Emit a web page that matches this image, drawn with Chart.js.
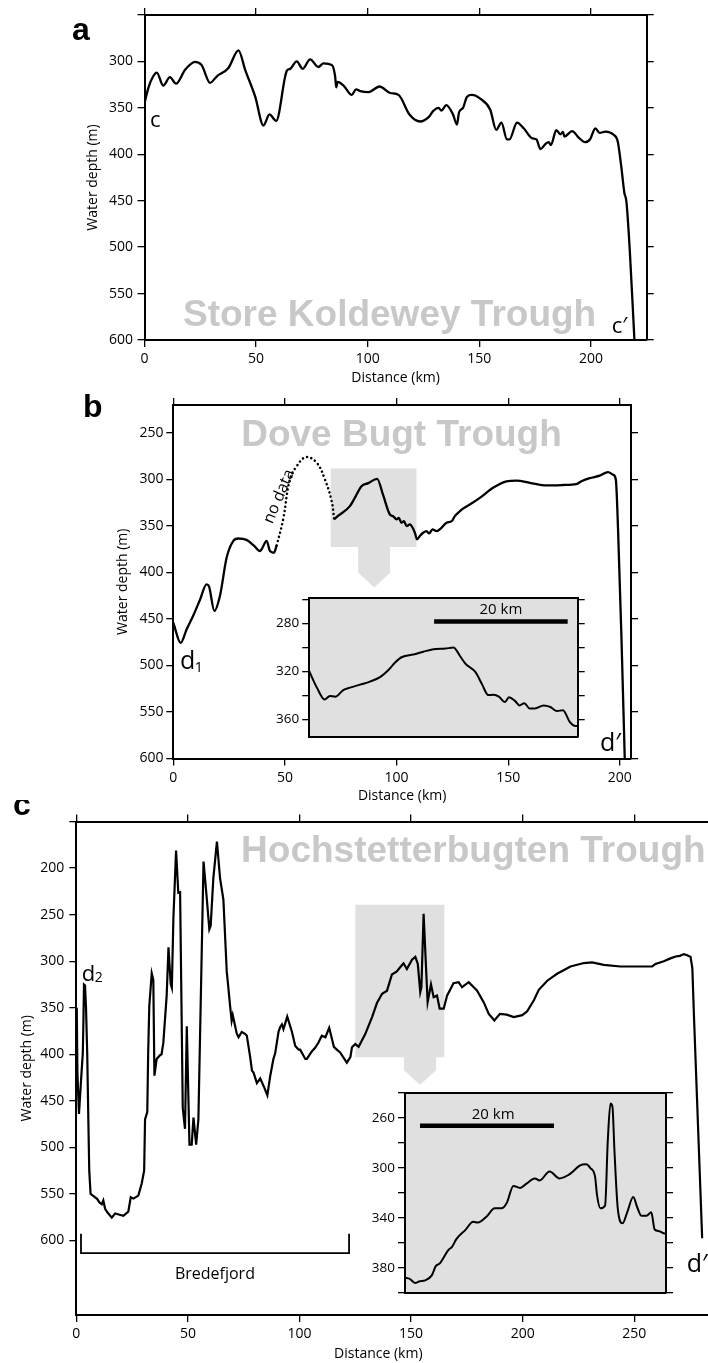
<!DOCTYPE html>
<html><head><meta charset="utf-8">
<script src="https://cdn.jsdelivr.net/npm/chart.js@4.4.1/dist/chart.umd.min.js"></script>
<style>
html,body{margin:0;padding:0;background:#fff;overflow:hidden;}
#wrap{position:relative;width:708px;height:1363px;overflow:hidden;background:#fff;}
#wrap canvas{position:absolute;}
</style></head><body><div id="wrap"></div>
<script>
// ---------- DATA ----------
// Panel a: Store Koldewey Trough (distance km, water depth m)
const aKm = [0, 1.8, 3.9, 5.5, 8.4, 11.4, 14.1, 18.2, 22.6, 25.6, 29.4, 32.4, 37.6, 42.1, 45.1, 49.6, 53.3, 56, 59, 63.8, 65.3, 68.2, 70.9, 74.2, 77.9, 80.2, 84, 85.4, 85.9, 86.5, 89.2, 92.9, 94.8, 96.7, 100.4, 105.3, 110.1, 113.8, 118.8, 123.5, 127.3, 129.5, 131.8, 133, 135.2, 138.2, 140, 140.9, 142.7, 144.5, 146.7, 150.4, 154.9, 157.6, 159.9, 162.4, 163.5, 166.9, 169.9, 173.6, 175.6, 177.4, 179.6, 181.1, 182.1, 184.5, 186.3, 187.5, 188.1, 191.6, 194.5, 197.5, 199.7, 202, 203.9, 206.5, 210.2, 212, 213.6, 215, 215.9, 217.4, 219.5];
const aDepth = [345, 328, 316, 312, 326, 317, 324, 309, 300.5, 304, 323, 316, 307, 288, 309, 338, 369, 357, 364, 310, 308, 300, 308, 297.7, 306, 302, 304, 316, 328, 322, 326, 336, 330, 332, 333, 327, 334, 336, 357.5, 364.7, 360, 353, 350, 353, 347, 357, 368, 355, 350, 338, 336, 340, 352, 373.7, 366, 384, 384, 365.8, 372, 382.6, 384, 394.5, 389, 387, 390, 374, 378.5, 376, 381, 375, 382, 387, 383.5, 372, 377, 375.5, 379, 386, 413, 441.7, 450.7, 502.7, 600];

// Panel b: Dove Bugt Trough, part before the data gap
const bKm1 = [0, 3.3, 6, 9, 12, 14.9, 16, 18.4, 20.9, 23.9, 26.9, 29.1, 32.8, 36, 38.8, 39.6, 41.8, 43.3, 45.1, 46.3];
const bDepth1 = [454, 475.7, 461, 446, 429, 412.8, 415, 441.4, 425, 384, 366, 363.5, 365, 371, 377, 375, 366, 377, 378.8, 371];
// "no data" interpolated segment
const bGapKm = [46.3, 49.2, 52.2, 55.2, 59.4, 64.2, 67.9, 70.9, 72];
const bGapDepth = [371, 343, 300, 286, 276, 282, 300, 323, 342];
// part after the gap
const bKm2 = [72, 73.9, 79.1, 81.3, 84.3, 87.3, 91.3, 94, 97, 98.5, 100, 101, 102.2, 103.3, 104.5, 106, 107.2, 108.2, 109.2, 110.4, 111.9, 113.4, 114.6, 116.1, 117.9, 120.1, 122.4, 124.7, 126.1, 128.4, 129.6, 132.8, 137.3, 143.2, 149.2, 153.7, 159.7, 167.2, 174.6, 180.5, 182.8, 186.5, 191, 194.7, 197, 198.2, 199.2, 200.7, 202.2];
const bDepth2 = [343, 339, 328.7, 319.8, 307.3, 304, 299.4, 317, 337.7, 339.5, 343, 341.3, 346.6, 344.9, 350.2, 348.4, 352, 357.3, 364.5, 360.9, 357.3, 355.5, 358, 353.7, 355.5, 352, 346.6, 344.9, 339.5, 334.1, 331.6, 327, 319.8, 309, 302, 301.3, 303.6, 306.4, 306, 305, 302, 298.7, 296, 292.2, 295, 300, 353.8, 468, 600];

// Panel c: Hochstetterbugten Trough
const cKm = [0.2, 0.5, 1.2, 2.4, 2.9, 3.2, 3.45, 3.9, 4.35, 4.9, 5.4, 5.8, 6.4, 7.6, 9.4, 10.3, 11.4, 12.1, 12.9, 14, 15.9, 17.4, 19, 21.1, 23.3, 24.4, 25.6, 27.8, 29.3, 30.4, 30.8, 31.8, 32.2, 32.7, 33.8, 34.5, 35, 36, 37.5, 38.2, 39, 40.5, 41.3, 42.3, 42.8, 43.5, 44.7, 45.7, 46.5, 47.7, 48.7, 49.5, 50.7, 51.7, 52.5, 53.7, 54.7, 57, 58.5, 59.6, 60.2, 61.4, 63, 64.4, 65.9, 67.4, 68.1, 68.9, 69.6, 70.1, 71.9, 72.7, 74.1, 75.6, 76.4, 77.9, 78.7, 79.4, 80.9, 82.4, 83.9, 85.6, 86.9, 88.3, 89.1, 90.6, 91.3, 92.1, 92.8, 94.5, 96.6, 98.1, 99.6, 100.3, 102.6, 103.3, 105.5, 107, 108.5, 110, 111.6, 113.3, 115.4, 116.7, 118.2, 121.2, 122.8, 123.5, 125, 126.5, 129.5, 132.5, 134.7, 137, 139.2, 141.4, 143.6, 145.1, 146.6, 148.1, 150.4, 151.9, 153, 154.1, 154.6, 155.6, 156.4, 157.4, 158.9, 160.1, 161.6, 162.8, 164.6, 166.1, 169, 171.3, 172.8, 175.8, 179.5, 182.5, 184.8, 187.3, 189.8, 192.8, 196, 199.8, 202, 205, 207.2, 211, 215.4, 221.4, 227.4, 231.1, 236.3, 243.8, 252.8, 258, 259.5, 263.2, 266.2, 268.5, 270.4, 272.2, 273.7, 275.2, 276, 276.7, 280.4];
const cDepth = [350, 420, 464, 417.5, 399.6, 363.8, 325, 326, 349.5, 399.6, 471, 525, 550, 552, 555.5, 559, 561, 557, 566, 570, 575.4, 571, 572, 573.5, 569, 553.5, 555, 551.8, 538.8, 525, 470, 462, 399, 348.3, 313, 320, 423, 405, 401, 400, 387.5, 336.5, 285, 324.7, 328.6, 254, 181.3, 226.5, 226, 458, 480, 370, 497, 497, 468, 497, 470, 193, 234, 265.8, 262, 210.8, 171.5, 210.8, 234, 311, 328, 348, 364, 358, 377.8, 381.7, 376, 378, 380, 403, 417.5, 419.7, 431, 426, 434, 444, 423, 405, 399, 375.8, 371, 368, 373, 359.5, 375.8, 391, 395, 395, 405, 405, 397, 393, 387.4, 380, 381.7, 371.6, 392, 395, 398, 409, 403, 392.5, 389, 392, 378, 360, 345, 335, 331.7, 314.3, 311, 306.6, 302.3, 308.5, 298.5, 295.5, 303, 333.3, 328, 249, 292, 344, 325, 338.6, 337, 351, 351, 337, 323.6, 322.5, 328, 322.5, 331.5, 344, 356.6, 363.8, 356.6, 357.4, 360, 358, 353.8, 342, 330.7, 321, 313.5, 305.7, 302, 301.3, 303.9, 305.7, 305.7, 305.7, 303, 300, 297, 295, 294.3, 292.4, 293.6, 295.4, 307.7, 357.6, 597.6];

// Inset of panel b (local distance km, depth m)
const ibKm = [0, 1.15, 2.3, 3.1, 3.9, 5.1, 6.1, 7.6, 9.1, 10.6, 11.9, 12.9, 13.9, 15.6, 17.1, 18.6, 20.4, 21.6, 22.6, 23.4, 24.9, 25.9, 26.8, 27.6, 28.4, 29.3, 29.9, 30.8, 31.5, 32.2, 33, 33.8, 35.1, 36.1, 37.1, 38, 39, 39.8, 40.2];
const ibDepth = [319.8, 333.5, 343.4, 340.4, 341, 335.5, 333.5, 331, 328.5, 324.8, 318.6, 312.4, 308, 306, 303.6, 301.6, 301, 300.2, 307.4, 313.6, 320.6, 331, 339.7, 339.4, 341, 345.5, 341.5, 344.5, 348.4, 346.4, 350.8, 350.8, 348.4, 349.6, 353, 352.3, 362, 365.4, 365.5];

// Inset of panel c
const icKm = [0, 0.7, 1.5, 2.2, 3, 4, 4.6, 5.2, 6.5, 7, 7.7, 9, 10.2, 10.9, 12.2, 13.4, 14.4, 15.2, 16.2, 17.2, 18.2, 19.4, 20.1, 21.6, 23.1, 24.4, 25.1, 26.1, 27.1, 27.7, 28.4, 28.7, 29.2, 29.9, 30.3, 30.7, 31, 31.3, 31.8, 32.5, 33.2, 34.1, 34.7, 35.3, 36.1, 36.8, 37.3, 38, 38.8, 39];
const icDepth = [387.8, 388.7, 392, 390.7, 390, 386, 378.6, 376.4, 365.5, 363.3, 356.8, 349.7, 343.1, 343.6, 338.8, 332.3, 332.3, 328, 314.3, 316, 312.3, 308.3, 310, 302.8, 308.3, 305.6, 302.8, 298, 297, 300, 306.9, 321.9, 332.3, 330, 278.3, 248.3, 251, 286.4, 332.8, 344.3, 335.5, 323.3, 331.4, 338.2, 338.2, 335.5, 349.2, 350.6, 352.5, 352.5];

// Tick values / labels
const aDistTicks = [0, 50, 100, 150, 200];
const aDepthTicks = [250, 300, 350, 400, 450, 500, 550, 600];
const aDepthLabels = [300, 350, 400, 450, 500, 550, 600];
const bDistTicks = [0, 50, 100, 150, 200];
const bDepthTicks = [250, 300, 350, 400, 450, 500, 550, 600];
const cDistTicks = [0, 50, 100, 150, 200, 250];
const cDepthTicks = [150, 200, 250, 300, 350, 400, 450, 500, 550, 600];
const cDepthLabels = [200, 250, 300, 350, 400, 450, 500, 550, 600];
const ibDepthTicks = [260, 280, 300, 320, 340, 360];
const ibDepthLabels = [280, 320, 360];
const icDepthTicks = [240, 260, 280, 300, 320, 340, 360, 380, 400];
const icDepthLabels = [260, 300, 340, 380];

// ---------- HELPERS ----------
const FONT = "'Open Sans', 'Noto Sans', 'DejaVu Sans', sans-serif";
const BOLD = "'Liberation Sans', Arial, Helvetica, sans-serif";
const BLACK = '#000';
const GRAYTXT = '#c8c8c8';
const GRAYBOX = '#e0e0e0';
const wrap = document.getElementById('wrap');
const pts = (xs, ys) => xs.map((x, i) => ({x: x, y: ys[i]}));

function makeCanvas(box) {
  const c = document.createElement('canvas');
  c.width = box.w; c.height = box.h;
  c.style.left = box.left + 'px'; c.style.top = box.top + 'px';
  c.style.width = box.w + 'px'; c.style.height = box.h + 'px';
  wrap.appendChild(c);
  return c;
}
const fit = n => s => { if (s.isHorizontal()) s.height = n; else s.width = n; };

function axis(o) {
  const vertical = o.pos === 'left' || o.pos === 'right';
  const cfg = {
    type: 'linear', position: o.pos, min: o.min, max: o.max, reverse: vertical,
    afterFit: fit(o.size),
    ticks: {
      display: !!o.labels, padding: o.pad || 3, color: BLACK,
      font: {family: FONT, size: o.fontSize || 14},
      autoSkip: false, maxRotation: 0, minRotation: 0,
      callback: v => (o.labels && o.labels.indexOf(v) >= 0) ? String(v) : ''
    },
    grid: {display: !!o.ticks, drawOnChartArea: false, drawTicks: true, tickLength: 7, color: BLACK, lineWidth: 1.3},
    border: {display: true, color: BLACK, width: 2}
  };
  if (o.ticks) { const tv = o.ticks; cfg.afterBuildTicks = s => { s.ticks = tv.map(v => ({value: v})); }; }
  if (o.title) cfg.title = o.title;
  return cfg;
}

function annot(cfg) {
  return {
    id: 'annot',
    beforeDraw(chart) {
      if (!cfg.bg) return;
      const a = chart.chartArea, ctx = chart.ctx;
      ctx.save(); ctx.fillStyle = cfg.bg;
      ctx.fillRect(a.left, a.top, a.right - a.left, a.bottom - a.top);
      ctx.restore();
    },
    beforeDatasetsDraw(chart) {
      const ctx = chart.ctx, X = chart.scales.x, Y = chart.scales.y;
      (cfg.shapes || []).forEach(s => {
        ctx.save(); ctx.fillStyle = s.color; ctx.beginPath();
        s.pts.forEach((p, i) => {
          const px = X.getPixelForValue(p[0]), py = Y.getPixelForValue(p[1]);
          if (i) ctx.lineTo(px, py); else ctx.moveTo(px, py);
        });
        ctx.closePath(); ctx.fill(); ctx.restore();
      });
    },
    afterDraw(chart) {
      const ctx = chart.ctx, X = chart.scales.x, Y = chart.scales.y;
      (cfg.lines || []).forEach(l => {
        ctx.save(); ctx.strokeStyle = l.color || BLACK; ctx.lineWidth = l.width; ctx.lineCap = 'butt'; ctx.lineJoin = 'miter';
        ctx.beginPath();
        l.pts.forEach((p, i) => {
          const px = X.getPixelForValue(p[0]), py = Y.getPixelForValue(p[1]);
          if (i) ctx.lineTo(px, py); else ctx.moveTo(px, py);
        });
        ctx.stroke(); ctx.restore();
      });
      (cfg.texts || []).forEach(t => {
        ctx.save();
        ctx.font = (t.weight || 400) + ' ' + t.size + 'px ' + (t.family || FONT);
        ctx.fillStyle = t.color || BLACK;
        ctx.textAlign = t.align || 'left';
        ctx.textBaseline = t.base || 'alphabetic';
        ctx.translate(X.getPixelForValue(t.x), Y.getPixelForValue(t.y));
        if (t.rot) ctx.rotate(t.rot * Math.PI / 180);
        ctx.fillText(t.t, 0, 0);
        ctx.restore();
      });
    }
  };
}

function makeChart(box, area, sc, datasets, plug) {
  const L = area.l - box.left, T = area.t - box.top;
  const R = box.left + box.w - area.r, B = box.top + box.h - area.b;
  const scales = {
    x: axis(Object.assign({pos: 'bottom', size: B}, sc.x)),
    x2: axis(Object.assign({pos: 'top', size: T}, sc.x, {labels: null, title: null})),
    y: axis(Object.assign({pos: 'left', size: L}, sc.y)),
    y2: axis(Object.assign({pos: 'right', size: R}, sc.y, {labels: null, title: null}))
  };
  delete scales.x2.title; delete scales.y2.title;
  return new Chart(makeCanvas(box), {
    type: 'line',
    data: {datasets: datasets},
    options: {
      responsive: false, animation: false, events: [],
      layout: {padding: 0, autoPadding: false},
      plugins: {legend: {display: false}, tooltip: {enabled: false}},
      scales: scales
    },
    plugins: [plug]
  });
}

const line = (data, extra) => Object.assign({
  data: data, borderColor: BLACK, borderWidth: 2.3, pointRadius: 0, fill: false,
  cubicInterpolationMode: 'monotone', xAxisID: 'x', yAxisID: 'y'
}, extra || {});
const axTitle = (text, padTop, padBottom) => ({display: true, text: text, color: BLACK,
  font: {family: FONT, size: 14}, padding: {top: padTop, bottom: padBottom}});

// ---------- PANEL A ----------
makeChart({left: 0, top: 0, w: 690, h: 392}, {l: 144.5, t: 15, r: 646.7, b: 340},
  {
    x: {min: 0, max: 225, ticks: aDistTicks, labels: aDistTicks, pad: 3.6,
        title: axTitle('Distance (km)', 0, 392 - 378.3 - 8.4)},
    y: {min: 250, max: 600, ticks: aDepthTicks, labels: aDepthLabels, pad: 4.5,
        title: axTitle('Water depth (m)', 92.6 - 8.4, 0)}
  },
  [line(pts(aKm, aDepth))],
  annot({
    texts: [
      {t: 'Store Koldewey Trough', x: 109.8, y: 584.9, size: 37, weight: 700, family: BOLD, color: GRAYTXT, align: 'center'},
      {t: 'a', x: -32.5, y: 276.9, size: 32, weight: 700, family: BOLD},
      {t: 'c', x: 2.46, y: 370.9, size: 22},
      {t: 'c\u2032', x: 209.3, y: 592.1, size: 22}
    ]
  })
);

// ---------- PANEL B ----------
makeChart({left: 0, top: 385, w: 690, h: 420}, {l: 173.3, t: 405, r: 631, b: 758.5},
  {
    x: {min: 0, max: 205, ticks: bDistTicks, labels: bDistTicks, pad: 3.8,
        title: axTitle('Distance (km)', 0, 805 - 796.4 - 8.4)},
    y: {min: 220, max: 600, ticks: bDepthTicks, labels: bDepthTicks, pad: 2.8,
        title: axTitle('Water depth (m)', 123.3 - 8.4, 0)}
  },
  [
    line(pts(bKm1, bDepth1)),
    line(pts(bGapKm, bGapDepth), {borderDash: [0.1, 4.3], borderCapStyle: 'round', borderWidth: 2.5, cubicInterpolationMode: 'default', tension: 0.4}),
    line(pts(bKm2, bDepth2))
  ],
  annot({
    shapes: [{color: GRAYBOX, pts: [[70.5, 288.3], [108.9, 288.3], [108.9, 372.7], [97.1, 372.7], [97.1, 400.2], [90, 416.3], [82.8, 400.2], [82.8, 372.7], [70.5, 372.7]]}],
    texts: [
      {t: 'Dove Bugt Trough', x: 102.2, y: 263.6, size: 37, weight: 700, family: BOLD, color: GRAYTXT, align: 'center'},
      {t: 'b', x: -40.4, y: 232.5, size: 32, weight: 700, family: BOLD},
      {t: 'd', x: 3.0, y: 503.5, size: 25},
      {t: '1', x: 9.5, y: 506.5, size: 15},
      {t: 'd\u2032', x: 191.1, y: 591.9, size: 25},
      {t: 'no data', x: 47.4, y: 318.3, size: 16, rot: -67, align: 'center', base: 'middle'}
    ]
  })
);

// ---------- PANEL C ----------
makeChart({left: 0, top: 800, w: 734, h: 563}, {l: 76.3, t: 821.5, r: 723.6, b: 1315},
  {
    x: {min: 0, max: 290, ticks: cDistTicks, labels: cDistTicks, pad: 3.4},
    y: {min: 150, max: 680, ticks: cDepthTicks, labels: cDepthLabels, pad: 5,
        title: axTitle('Water depth (m)', 26.7 - 8.4, 0)}
  },
  [line(pts(cKm, cDepth), {cubicInterpolationMode: 'default', tension: 0, borderWidth: 2.2})],
  annot({
    shapes: [{color: GRAYBOX, pts: [[125, 239.4], [164.9, 239.4], [164.9, 403.2], [161.2, 403.2], [161.2, 417.1], [154, 432.8], [146.8, 417.1], [146.8, 403.2], [125, 403.2]]}],
    lines: [{width: 1.8, pts: [[2.1, 592.8], [2.1, 613.5], [122.2, 613.5], [122.2, 592.8]]}],
    texts: [
      {t: 'Hochstetterbugten Trough', x: 177.9, y: 193.1, size: 37, weight: 700, family: BOLD, color: GRAYTXT, align: 'center'},
      {t: 'c', x: -28.4, y: 143.3, size: 32, weight: 700, family: BOLD},
      {t: 'd', x: 2.4, y: 320.8, size: 22},
      {t: '2', x: 8.3, y: 322, size: 14},
      {t: 'd\u2032', x: 273.5, y: 633.7, size: 25},
      {t: 'Bredefjord', x: 62.1, y: 641.2, size: 16, align: 'center'},
      {t: 'Distance (km)', x: 135.3, y: 722.4, size: 14, align: 'center', base: 'middle'}
    ]
  })
);

// ---------- INSET B ----------
makeChart({left: 269, top: 587, w: 321, h: 161}, {l: 309.2, t: 590, r: 577.7, b: 745},
  {
    x: {min: 0, max: 40.2, ticks: null, labels: null},
    y: {min: 259, max: 374.5, ticks: ibDepthTicks, labels: ibDepthLabels, pad: 3, fontSize: 13.5}
  },
  [line(pts(ibKm, ibDepth), {borderWidth: 2})],
  annot({
    bg: GRAYBOX,
    lines: [{width: 4.5, pts: [[18.7, 278.4], [38.7, 278.4]]}],
    texts: [{t: '20 km', x: 28.7, y: 268.9, size: 15, align: 'center', base: 'middle'}]
  })
);

// ---------- INSET C ----------
makeChart({left: 363, top: 1082, w: 315, h: 222}, {l: 405, t: 1085.5, r: 666, b: 1300.5},
  {
    x: {min: 0, max: 39, ticks: null, labels: null},
    y: {min: 240, max: 400, ticks: icDepthTicks, labels: icDepthLabels, pad: 3, fontSize: 13.5}
  },
  [line(pts(icKm, icDepth), {borderWidth: 2})],
  annot({
    bg: GRAYBOX,
    lines: [{width: 4.5, pts: [[2.24, 266.2], [22.26, 266.2]]}],
    texts: [{t: '20 km', x: 13.17, y: 257.3, size: 15, align: 'center', base: 'middle'}]
  })
);
</script></body></html>
